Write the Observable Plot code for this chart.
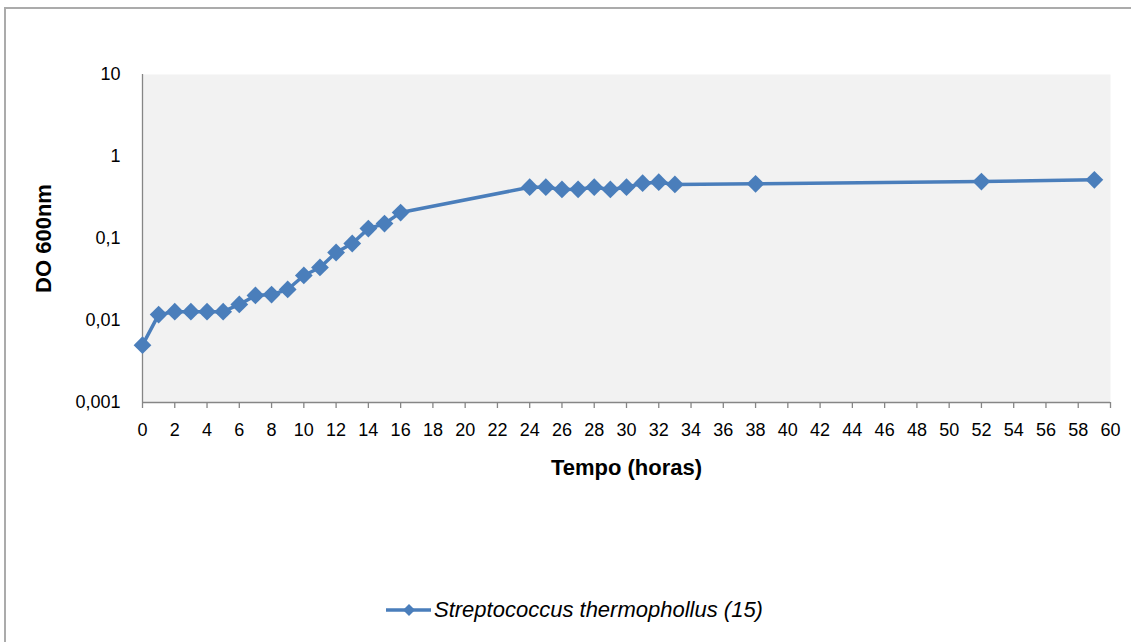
<!DOCTYPE html>
<html>
<head>
<meta charset="utf-8">
<script src="https://cdn.jsdelivr.net/npm/d3@7"></script>
<script src="https://cdn.jsdelivr.net/npm/@observablehq/plot@0.6"></script>
<style>
  html, body { margin: 0; padding: 0; background: #fff; width: 1131px; height: 642px; overflow: hidden; }
  #wrap { position: relative; width: 1131px; height: 642px; font-family: "Liberation Sans", Arial, sans-serif; }
  #border { position: absolute; left: 4px; top: 7px; width: 1140px; height: 650px; border-top: 2px solid #ababab; border-left: 2px solid #ababab; }
  #chart { position: absolute; left: 0; top: 0; }
  #legend { position: absolute; left: 386px; top: 597px; display: flex; align-items: center; font-style: italic; font-size: 22px; color: #000; white-space: nowrap; }
  #legend svg { margin-right: 2px; }
</style>
</head>
<body>
<div id="wrap">
  <div id="border"></div>
  <div id="chart"></div>
  <div id="legend"></div>
</div>
<script>
// Data
const hours = [0, 1, 2, 3, 4, 5, 6, 7, 8, 9, 10, 11, 12, 13, 14, 15, 16,
               24, 25, 26, 27, 28, 29, 30, 31, 32, 33, 38, 52, 59];
const od600 = [0.005, 0.0118, 0.0128, 0.0128, 0.0128, 0.0128, 0.0157, 0.0202, 0.0207, 0.0239,
               0.0354, 0.0443, 0.0675, 0.0869, 0.132, 0.152, 0.207,
               0.422, 0.422, 0.396, 0.398, 0.422, 0.396, 0.422, 0.472, 0.486, 0.456,
               0.465, 0.495, 0.52];
const xTicks = [0, 2, 4, 6, 8, 10, 12, 14, 16, 18, 20, 22, 24, 26, 28, 30,
                32, 34, 36, 38, 40, 42, 44, 46, 48, 50, 52, 54, 56, 58, 60];
const yTicks = [0.001, 0.01, 0.1, 1, 10];
const yTickLabels = ["0,001", "0,01", "0,1", "1", "10"];
const seriesName = "Streptococcus thermophollus (15)";
const xTitle = "Tempo (horas)";
const yTitle = "DO 600nm";

const color = "#4a7ebb";
const axisColor = "#868686";
const data = hours.map((h, i) => ({ h, v: od600[i] }));

const chart = Plot.plot({
  width: 1131,
  height: 500,
  marginLeft: 142,
  marginRight: 21,
  marginTop: 74,
  marginBottom: 98,
  style: { fontFamily: "Liberation Sans, Arial, sans-serif", color: "#000", background: "transparent" },
  x: { domain: [0, 60] },
  y: { type: "log", domain: [0.001, 10] },
  marks: [
    Plot.frame({ fill: "#f2f2f2" }),
    Plot.ruleX([0], { stroke: axisColor, strokeWidth: 1.3 }),
    Plot.ruleY([0.001], { stroke: axisColor, strokeWidth: 1.3 }),
    Plot.axisX({ ticks: xTicks, tickSize: 6, tickPadding: 15, stroke: axisColor, strokeWidth: 1.3,
                 fontSize: 18, fill: "#000", label: null, tickFormat: d => String(d) }),
    Plot.axisX({ ticks: [], label: xTitle, labelAnchor: "center", labelArrow: "none", labelOffset: 72,
                 fontSize: 22, fontWeight: "bold", fill: "#000" }),
    Plot.axisY({ ticks: yTicks, tickSize: 0, tickPadding: 22, fontSize: 18, fill: "#000",
                 label: null, tickFormat: d => yTickLabels[yTicks.indexOf(d)] }),
    Plot.axisY({ ticks: [], label: yTitle, labelAnchor: "center", labelArrow: "none", labelOffset: 107,
                 fontSize: 22, fontWeight: "bold", fill: "#000" }),
    Plot.line(data, { x: "h", y: "v", stroke: color, strokeWidth: 3.5 }),
    Plot.dot(data, { x: "h", y: "v", symbol: "diamond2", r: 8, fill: color, stroke: "none" })
  ]
});
document.getElementById("chart").appendChild(chart);

// Legend
const legend = document.getElementById("legend");
legend.innerHTML =
  `<svg width="46" height="16" viewBox="0 0 46 16"><line x1="0" y1="8" x2="45" y2="8" stroke="${color}" stroke-width="3.5"/>` +
  `<path d="M23 2 L29 8 L23 14 L17 8 Z" fill="${color}"/></svg><span></span>`;
legend.querySelector("span").textContent = seriesName;
</script>
</body>
</html>
